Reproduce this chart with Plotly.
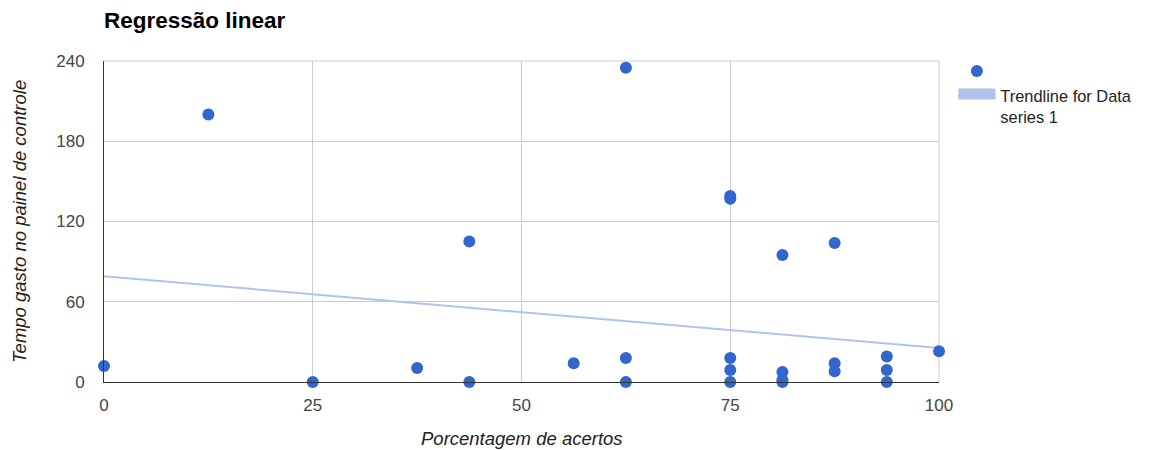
import plotly.graph_objects as go

# Data
acertos = [0, 12.5, 25, 37.5, 43.75, 43.75, 56.25, 62.5, 62.5, 62.5,
           75, 75, 75, 75, 75, 81.25, 81.25, 81.25, 81.25,
           87.5, 87.5, 87.5, 93.75, 93.75, 93.75, 100]
tempo = [12, 200, 0, 10.5, 105, 0, 14, 235, 18, 0,
         139, 137, 18, 9, 0, 95, 7.5, 1.5, 0,
         104, 14, 8, 19, 9, 0, 23]
# Trendline end values
trend_x = [0, 100]
trend_y = [79, 25.5]
x_ticks = [0, 25, 50, 75, 100]
y_ticks = [0, 60, 120, 180, 240]

TREND_COLOR = "#b0c3ee"
font = "Liberation Sans, Arial, sans-serif"

W, H = 1143, 442  # page adds 8px body margin
L, T = 96, 53
PW, PH = 835, 321

fig = go.Figure()
fig.add_trace(go.Scatter(
    x=trend_x, y=trend_y, mode="lines",
    line=dict(color=TREND_COLOR, width=2),
    showlegend=False, hoverinfo="skip"))
fig.add_trace(go.Scatter(
    x=acertos, y=tempo, mode="markers", name="",
    marker=dict(color="#3366cc", size=12),
    cliponaxis=False))
fig.add_trace(go.Scatter(
    x=[None], y=[None], mode="lines", fill="toself", fillcolor=TREND_COLOR,
    name="Trendline for Data<br>series 1",
    line=dict(color=TREND_COLOR, width=10)))

fig.update_layout(
    width=W, height=H,
    margin=dict(l=L, r=W - L - PW, t=T, b=H - T - PH, autoexpand=False),
    paper_bgcolor="white", plot_bgcolor="white",
    font=dict(family=font, color="#444444", size=17),
    title=dict(text="<b>Regressão linear</b>", xref="container",
               x=L / W, xanchor="left",
               y=1 - 12.5 / H, yanchor="middle",
               font=dict(size=22.5, color="#000000", family=font)),
    xaxis=dict(range=[0, 100], tickvals=x_ticks, showgrid=True,
               gridcolor="#cccccc", gridwidth=1, zeroline=False,
               showline=True, linecolor="#333333", linewidth=1,
               ticks="", ticklabelstandoff=8, automargin=False,
               tickfont=dict(size=17, color="#444444")),
    yaxis=dict(range=[0, 240], tickvals=y_ticks, showgrid=True,
               gridcolor="#cccccc", gridwidth=1, zeroline=False,
               showline=True, linecolor="#333333", linewidth=1,
               ticks="", ticklabelstandoff=15, automargin=False,
               tickfont=dict(size=17, color="#444444")),
    legend=dict(x=1.0172, y=1.022, xanchor="left", yanchor="top",
                xref="paper", yref="paper", valign="top",
                font=dict(size=16.4, color="#222222"), itemwidth=37,
                tracegroupgap=4, bgcolor="rgba(0,0,0,0)"),
    showlegend=True,
)

fig.add_annotation(text="<i>Porcentagem de acertos</i>", xref="paper", yref="paper",
                   x=0.5, y=0, yshift=-56, xanchor="center", yanchor="middle",
                   showarrow=False, font=dict(size=18.5, color="#222222", family=font))
fig.add_annotation(text="<i>Tempo gasto no painel de controle</i>", xref="paper", yref="paper",
                   x=0, xshift=-84.5, y=0.5, xanchor="center", yanchor="middle",
                   textangle=-90, showarrow=False,
                   font=dict(size=18.5, color="#222222", family=font))

fig.add_shape(type="line", xref="paper", yref="paper", x0=0, x1=1, y0=1, y1=1,
              line=dict(color="#cccccc", width=1), layer="below")
fig.add_shape(type="line", xref="paper", yref="paper", x0=1, x1=1, y0=0, y1=1,
              line=dict(color="#cccccc", width=1), layer="below")

fig.write_html("out.html")
